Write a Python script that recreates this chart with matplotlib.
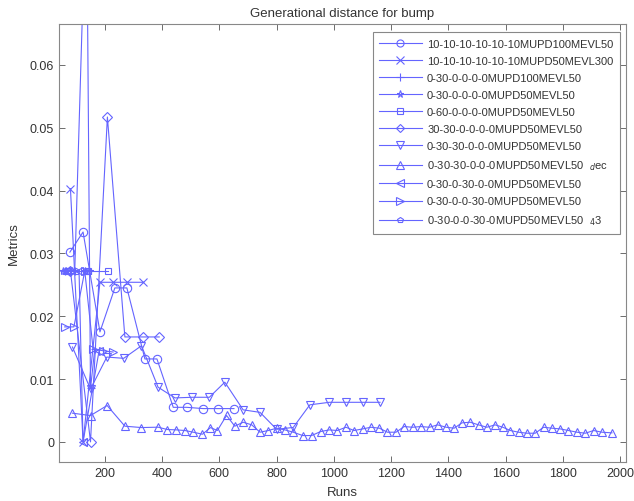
import matplotlib
matplotlib.use("Agg")
import matplotlib.pyplot as plt
from matplotlib.ticker import FuncFormatter

plt.rcParams['font.family'] = ['Liberation Sans', 'DejaVu Sans']

# ---------------- data ----------------
labels = [
    "10-10-10-10-10-10MUPD100MEVL50",
    "10-10-10-10-10-10MUPD50MEVL300",
    "0-30-0-0-0-0MUPD100MEVL50",
    "0-30-0-0-0-0MUPD50MEVL50",
    "0-60-0-0-0-0MUPD50MEVL50",
    "30-30-0-0-0-0MUPD50MEVL50",
    "0-30-30-0-0-0MUPD50MEVL50",
    "0-30-30-0-0-0MUPD50MEVL50  $_d$ec",
    "0-30-0-30-0-0MUPD50MEVL50",
    "0-30-0-0-30-0MUPD50MEVL50",
    "0-30-0-0-30-0MUPD50MEVL50  $_4$3",
]
markers = ['o', 'x', '+', '*', 's', 'D', 'v', '^', '<', '>', 'p']

x_o = [78, 124, 183, 235, 277, 340, 382, 439, 486, 544, 596, 651]
y_o = [0.0302, 0.0334, 0.0175, 0.0245, 0.0245, 0.0132, 0.0132, 0.0055, 0.0055, 0.0053, 0.0053, 0.0053]

x_x = [80, 124, 183, 229, 276, 334]
y_x = [0.0403, 0.0, 0.0254, 0.0254, 0.0254, 0.0254]

x_plus = [62, 95, 136, 150, 165]
y_plus = [0.0272, 0.0272, 0.0900, 0.0085, 0.0148]

x_star = [55, 65, 75, 85, 130, 145]
y_star = [0.0272, 0.0272, 0.0272, 0.0272, 0.0272, 0.0272]

x_sq = [70, 140, 212]
y_sq = [0.0272, 0.0272, 0.0272]

x_d = [80, 150, 209, 270, 332, 390]
y_d = [0.0272, 0.0, 0.0517, 0.0167, 0.0167, 0.0167]

x_v = [87, 150, 207, 266, 328, 386, 445, 506, 565, 619, 683, 742, 800, 858, 916, 984, 1043, 1100, 1161]
y_v = [0.0151, 0.0084, 0.0135, 0.0133, 0.0153, 0.0087, 0.0070, 0.0071, 0.0071, 0.0095,
       0.0051, 0.0047, 0.0020, 0.0023, 0.0059, 0.0063, 0.0063, 0.0063, 0.0063]

x_up = [87, 150, 208, 270, 328, 386, 418, 450, 480, 509, 541, 569, 593, 625, 654, 683, 713,
        742, 771, 800, 829, 858, 891, 922, 954, 984, 1012, 1042, 1070, 1101, 1129, 1159,
        1187, 1217, 1245, 1275, 1303, 1334, 1362, 1392, 1420, 1447, 1476, 1505, 1534,
        1563, 1590, 1616, 1645, 1674, 1703, 1732, 1761, 1790, 1819, 1849, 1878, 1907,
        1936, 1971]
y_up = [0.00457, 0.00419, 0.00579, 0.00250, 0.00228, 0.00234, 0.00197, 0.00191, 0.00181,
        0.00154, 0.00122, 0.00228, 0.00181, 0.00420, 0.00250, 0.00313, 0.00271, 0.00154,
        0.00181, 0.00218, 0.00191, 0.00154, 0.00101, 0.00101, 0.00165, 0.00191, 0.00181,
        0.00233, 0.00181, 0.00207, 0.00233, 0.00218, 0.00154, 0.00154, 0.00244, 0.00233,
        0.00244, 0.00233, 0.00271, 0.00233, 0.00218, 0.00303, 0.00313, 0.00271, 0.00233,
        0.00271, 0.00233, 0.00181, 0.00154, 0.00138, 0.00138, 0.00233, 0.00218, 0.00207,
        0.00181, 0.00154, 0.00138, 0.00181, 0.00154, 0.00144]

x_lt = [65, 110, 124, 180]
y_lt = [0.0272, 0.0272, 0.0, 0.0145]

x_gt = [60, 92, 130, 159, 194, 229]
y_gt = [0.0183, 0.0183, 0.0272, 0.0148, 0.0145, 0.0143]

x_p = [60, 100, 140]
y_p = [0.0272, 0.0272, 0.0272]

xs = [x_o, x_x, x_plus, x_star, x_sq, x_d, x_v, x_up, x_lt, x_gt, x_p]
ys = [y_o, y_x, y_plus, y_star, y_sq, y_d, y_v, y_up, y_lt, y_gt, y_p]

x_ticks = [200, 400, 600, 800, 1000, 1200, 1400, 1600, 1800, 2000]
y_ticks = [0, 0.01, 0.02, 0.03, 0.04, 0.05, 0.06]

# ---------------- plot ----------------
color = '#6464ff'
fig = plt.figure(figsize=(6.34, 5.02), dpi=100)
ax = fig.add_axes([59/634, 1 - 463/502, (626-59)/634, (463-25)/502])

for xv, yv, m, lab in zip(xs, ys, markers, labels):
    ms = 6 if m not in ('D', 'p', 's') else 5
    ax.plot(xv, yv, color=color, lw=0.8, marker=m, markersize=ms,
            markerfacecolor='none', markeredgecolor=color, markeredgewidth=0.8,
            label=lab)

ax.set_xlim(40, 2020)
ax.set_ylim(-0.0032, 0.0665)
ax.set_xticks(x_ticks)
ax.set_yticks(y_ticks)
ax.yaxis.set_major_formatter(FuncFormatter(lambda v, p: '%g' % round(v, 4)))
ax.tick_params(direction='in', top=True, right=True, labelsize=9,
               colors='#555555', labelcolor='#333333', length=4, width=0.6)
for s in ax.spines.values():
    s.set_color('#888888')
    s.set_linewidth(0.8)

ax.set_title('Generational distance for bump', fontsize=9.5, color='#333333', pad=6)
ax.set_xlabel('Runs', fontsize=9.5, color='#333333', labelpad=5)
ax.set_ylabel('Metrics', fontsize=9.5, color='#333333', labelpad=7)

leg = ax.legend(loc='upper right', bbox_to_anchor=(620/634, 1 - 33/502),
                bbox_transform=fig.transFigure, fontsize=8, fancybox=False,
                framealpha=1, edgecolor='#888888', handlelength=3.8,
                handletextpad=0.5, labelspacing=0.64, borderpad=0.6,
                borderaxespad=0, markerscale=0.85)
leg.get_frame().set_linewidth(0.8)
for t in leg.get_texts():
    t.set_color('#333333')

fig.savefig('out.png', dpi=100)
